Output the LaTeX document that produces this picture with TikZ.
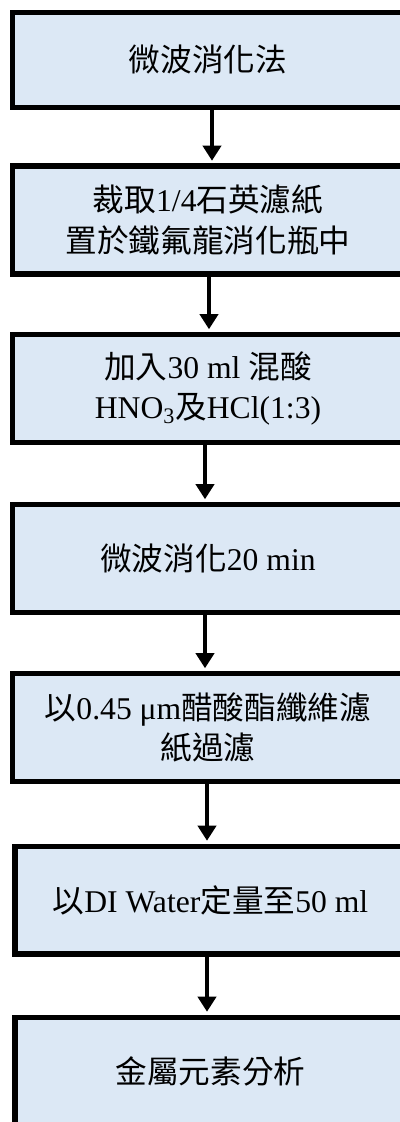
\documentclass[tikz,border=0pt]{standalone}
\usepackage{fontspec}
\setmainfont{Liberation Serif}
\newfontfamily\cjk{Noto Sans CJK TC}
\usetikzlibrary{arrows.meta}
\newcommand{\zh}[1]{{\cjk #1}}
\definecolor{boxblue}{RGB}{220,232,245}

\begin{document}
\begin{tikzpicture}[x=0.025cm, y=-0.025cm,
  box/.style={draw, line width=3.9pt, fill=boxblue, minimum width=9.7625cm,
    minimum height=2.6875cm, align=center, inner sep=0pt,
    font=\fontsize{22.5}{28.5}\selectfont},
  flow/.style={line width=3.5pt, -{Triangle[width=12.8pt,length=10.7pt]}, shorten >=1.95pt}]
\useasboundingbox (0,0) rectangle (400,1122);
\clip (0,0) rectangle (400,1122);

\node[box, minimum height=2.3625cm] (a) at (208,60) {\zh{微波消化法}};
\node[box] (b) at (208,220) {\zh{裁取}1/4\zh{石英濾紙}\\\zh{置於鐵氟龍消化瓶中}};
\node[box] (c) at (208,388.5) {\zh{加入}30 ml \zh{混酸}\\HNO\textsubscript{3}\zh{及}HCl(1:3)};
\node[box] (d) at (208,558.5) {\zh{微波消化}20 min};
\node[box] (e) at (208,727.5) {\zh{以}0.45 μm\zh{醋酸酯纖維濾}\\\zh{紙過濾}};
\node[box] (f) at (210.5,900) {\zh{以}DI Water\zh{定量至}50 ml};
\node[box] (g) at (210.5,1071) {\zh{金屬元素分析}};

\path[draw,flow] ([xshift=0.1cm]a.south) -- ([xshift=0.1cm]a.south |- b.north);
\path[draw,flow] ([xshift=0.025cm]b.south) -- ([xshift=0.025cm]b.south |- c.north);
\path[draw,flow] ([xshift=-0.075cm]c.south) -- ([xshift=-0.075cm]c.south |- d.north);
\path[draw,flow] ([xshift=-0.075cm]d.south) -- ([xshift=-0.075cm]d.south |- e.north);
\path[draw,flow] ([xshift=-0.025cm]e.south) -- ([xshift=-0.025cm]e.south |- f.north);
\path[draw,flow] ([xshift=-0.0875cm]f.south) -- ([xshift=-0.0875cm]f.south |- g.north);
\end{tikzpicture}
\end{document}
